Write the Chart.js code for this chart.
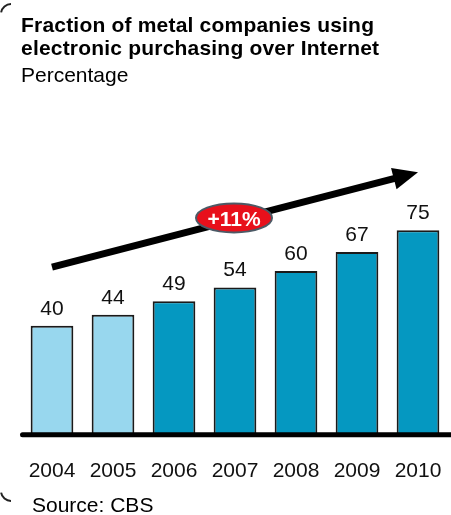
<!DOCTYPE html>
<html>
<head>
<meta charset="utf-8">
<script src="https://cdn.jsdelivr.net/npm/chart.js@4/dist/chart.umd.min.js"></script>
<style>
  html, body { margin: 0; padding: 0; background: #fff; }
  #wrap { position: relative; width: 451px; height: 515px; overflow: hidden; font-family: "Liberation Sans", Arial, sans-serif; }
  #wrap canvas { position: absolute; left: 0; top: 0; }
  .txt { position: absolute; white-space: nowrap; color: #000; font-size: 21px; line-height: 23px; }
  #title { left: 21px; top: 13px; font-weight: bold; letter-spacing: 0.2px; }
  #subtitle { left: 21px; top: 63px; }
  #source { left: 32px; top: 493px; }
</style>
</head>
<body>
<div id="wrap">
  <canvas id="chart" width="451" height="515"></canvas>
  <div class="txt" id="title">Fraction of metal companies using<br>electronic purchasing over Internet</div>
  <div class="txt" id="subtitle">Percentage</div>
  <div class="txt" id="source">Source: CBS</div>
</div>
<script>
// Share of metal companies buying electronically over the Internet, per year
const years = ['2004', '2005', '2006', '2007', '2008', '2009', '2010'];
const shares = [40, 44, 49, 54, 60, 67, 75];
// Earlier years are shown in a lighter shade
const isEarly = [true, true, false, false, false, false, false];
const growthLabel = '+11%';

const LIGHT = '#98D7EE';
const DARK = '#0598C1';
const FONT = '"Liberation Sans", Arial, sans-serif';

// Value labels above each bar
const valueLabels = {
  id: 'valueLabels',
  afterDatasetsDraw(chart) {
    const ctx = chart.ctx;
    const meta = chart.getDatasetMeta(0);
    ctx.save();
    ctx.font = '21px ' + FONT;
    ctx.fillStyle = '#111';
    ctx.textAlign = 'center';
    ctx.textBaseline = 'alphabetic';
    meta.data.forEach((bar, i) => {
      ctx.fillText(String(shares[i]), bar.x, bar.y - 11);
    });
    ctx.restore();
  }
};

// Thick baseline under the bars
const baseline = {
  id: 'baseline',
  afterDatasetsDraw(chart) {
    const ctx = chart.ctx;
    const y = chart.scales.y.getPixelForValue(0);
    ctx.save();
    ctx.strokeStyle = '#000';
    ctx.lineWidth = 5;
    ctx.lineCap = 'round';
    ctx.beginPath();
    ctx.moveTo(chart.chartArea.left + 1, y);
    ctx.lineTo(chart.width + 5, y);
    ctx.stroke();
    ctx.restore();
  }
};

// Trend arrow with the growth-rate badge
const trendArrow = {
  id: 'trendArrow',
  afterDatasetsDraw(chart) {
    const ctx = chart.ctx;
    const xs = chart.scales.x, ys = chart.scales.y;
    const x0 = xs.getPixelForValue(0), y0 = ys.getPixelForValue(61.5);
    const x1 = xs.getPixelForValue(6), y1 = ys.getPixelForValue(96.2);
    const ang = Math.atan2(y1 - y0, x1 - x0);
    const headLen = 25, headHalf = 11;
    const bx = x1 - headLen * Math.cos(ang), by = y1 - headLen * Math.sin(ang);
    ctx.save();
    ctx.strokeStyle = '#000';
    ctx.fillStyle = '#000';
    ctx.lineWidth = 7;
    ctx.beginPath();
    ctx.moveTo(x0, y0);
    ctx.lineTo(bx + 2 * Math.cos(ang), by + 2 * Math.sin(ang));
    ctx.stroke();
    ctx.beginPath();
    ctx.moveTo(x1, y1);
    ctx.lineTo(bx + headHalf * Math.sin(ang), by - headHalf * Math.cos(ang));
    ctx.lineTo(bx - headHalf * Math.sin(ang), by + headHalf * Math.cos(ang));
    ctx.closePath();
    ctx.fill();

    // Badge
    const cx = xs.getPixelForValue(3) - 1, cy = ys.getPixelForValue(79.5);
    ctx.beginPath();
    ctx.ellipse(cx, cy, 38, 14.5, 0, 0, Math.PI * 2);
    ctx.fillStyle = '#E8101B';
    ctx.fill();
    ctx.lineWidth = 2;
    ctx.strokeStyle = '#4C5A66';
    ctx.stroke();
    ctx.fillStyle = '#fff';
    ctx.font = 'bold 21px ' + FONT;
    ctx.textAlign = 'center';
    ctx.textBaseline = 'middle';
    ctx.fillText(growthLabel, cx, cy + 2);
    ctx.restore();
  }
};

// Rounded bracket corners on the left edge
const bracket = {
  id: 'bracket',
  afterDraw(chart) {
    const ctx = chart.ctx;
    ctx.save();
    ctx.strokeStyle = '#222';
    ctx.lineWidth = 2;
    ctx.beginPath();
    ctx.arc(11, 14, 10, Math.PI * 1.05, Math.PI * 1.5);
    ctx.stroke();
    ctx.beginPath();
    ctx.arc(11, 491, 10, Math.PI * 0.5, Math.PI * 0.95);
    ctx.stroke();
    ctx.restore();
  }
};

new Chart(document.getElementById('chart'), {
  type: 'bar',
  data: {
    labels: years,
    datasets: [{
      data: shares,
      backgroundColor: isEarly.map(e => e ? LIGHT : DARK),
      borderColor: '#1A1A1A',
      borderWidth: 2,
      borderSkipped: 'bottom',
      categoryPercentage: 1,
      barPercentage: 0.7
    }]
  },
  options: {
    responsive: false,
    animation: false,
    events: [],
    layout: { padding: { left: 21.5, right: 2.5, top: 162, bottom: 7 } },
    plugins: { legend: { display: false }, tooltip: { enabled: false }, title: { display: false } },
    scales: {
      y: { display: false, min: 0, max: 100 },
      x: {
        grid: { display: false, drawTicks: false },
        border: { display: false },
        ticks: { color: '#111', font: { size: 21, family: FONT }, padding: 24, maxRotation: 0 },
        afterFit(scale) { scale.paddingLeft = 0; scale.paddingRight = 0; }
      }
    }
  },
  plugins: [valueLabels, baseline, trendArrow, bracket]
});
</script>
</body>
</html>
